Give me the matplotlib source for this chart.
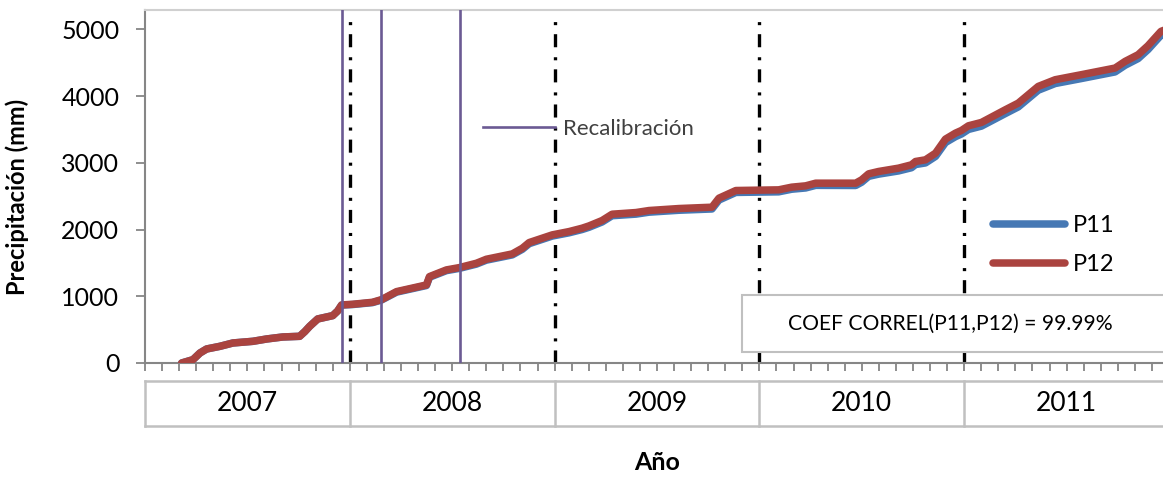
import matplotlib
matplotlib.use("Agg")
import matplotlib.pyplot as plt
from matplotlib.patches import Rectangle
from matplotlib.lines import Line2D
import matplotlib.transforms as mtransforms

plt.rcParams['font.family'] = ['Lato', 'DejaVu Sans']
plt.rcParams['lines.scale_dashes'] = False

# ---- data (months since Jan 2007) ----
months = [2.15, 2.81, 3.22, 3.61, 4.39, 5.15, 6.32, 7.13, 8.07, 9.06, 9.36, 9.65,
          10.12, 11.0, 11.29, 11.52, 12.16, 13.33, 13.86, 14.74, 16.49, 16.67,
          17.66, 18.42, 19.42, 20.0, 21.52, 22.11, 22.51, 23.86, 24.85, 25.61,
          26.02, 26.78, 27.37, 28.77, 29.53, 31.29, 33.22, 33.63, 34.62, 37.13,
          37.89, 38.71, 39.3, 41.64, 41.99, 42.4, 42.98, 44.15, 44.91, 45.15,
          45.73, 46.32, 46.9, 47.49, 47.84, 48.25, 49.01, 50.41, 51.17, 52.34,
          53.33, 54.85, 56.84, 57.43, 58.19, 58.77, 59.53, 59.95]
p12 = [0, 50, 150, 210, 250, 300, 325, 360, 390, 400, 470, 550,
       660, 710, 780, 870, 880, 910, 950, 1070, 1170, 1295,
       1395, 1430, 1495, 1555, 1635, 1720, 1805, 1920, 1970, 2020,
       2055, 2135, 2230, 2255, 2285, 2315, 2335, 2470, 2585, 2595,
       2635, 2655, 2695, 2695, 2745, 2835, 2870, 2920, 2970, 3020,
       3045, 3145, 3355, 3445, 3485, 3555, 3605, 3795, 3895, 4145,
       4245, 4320, 4420, 4520, 4620, 4755, 4970, 5010]
p11 = [0, 50, 150, 210, 250, 300, 325, 360, 390, 400, 470, 550,
       660, 710, 780, 868, 876, 905, 944, 1062, 1161, 1285,
       1384, 1418, 1482, 1541, 1620, 1704, 1788, 1902, 1951, 2000,
       2034, 2113, 2207, 2231, 2260, 2289, 2308, 2442, 2556, 2565,
       2604, 2623, 2662, 2660, 2709, 2797, 2830, 2878, 2926, 2974,
       2998, 3096, 3303, 3392, 3432, 3500, 3550, 3738, 3838, 4088,
       4188, 4262, 4362, 4462, 4562, 4697, 4912, 4952]
recalibracion = [11.52, 13.8, 18.45]
year_bounds = [12, 24, 36, 48]
years = ['2007', '2008', '2009', '2010', '2011']
yticks = [0, 1000, 2000, 3000, 4000, 5000]
correl_text = 'COEF CORREL(P11,P12) = 99.99%'

W, H = 1163, 478
fig = plt.figure(figsize=(W / 100, H / 100), dpi=100)
x0, x1 = 145, 1169
ytop, ybot = 10, 363
ax = fig.add_axes([x0 / W, (H - ybot) / H, (x1 - x0) / W, (ybot - ytop) / H])
ax.set_xlim(0, 60)
ax.set_ylim(0, 5290)

gray = '#868686'
light = '#C0C0C0'

# series
l11, = ax.plot(months, p11, color='#4678B4', lw=5.4, solid_capstyle='round', zorder=3, label='P11')
l12, = ax.plot(months, p12, color='#AA433F', lw=5.4, solid_capstyle='round', zorder=4, label='P12')

# year boundaries
for b in year_bounds:
    ax.axvline(b, color='black', lw=2.4, dashes=(9.4, 6.5, 2.2, 7.2), zorder=2,
               ymin=0, ymax=0.975)
# recalibration lines
for r in recalibracion:
    ax.axvline(r, color='#6B5A93', lw=1.9, zorder=5)

# axes styling
ax.set_yticks(yticks)
ax.set_yticklabels([str(v) for v in yticks], fontsize=18)
ax.tick_params(axis='y', direction='out', length=6.5, width=1.3, color=gray, pad=12)
ax.set_xticks(range(0, 61))
ax.set_xticklabels([])
ax.tick_params(axis='x', direction='out', length=6, width=1.3, color=gray)
ax.spines['left'].set_color(gray)
ax.spines['left'].set_linewidth(1.5)
ax.spines['bottom'].set_color(gray)
ax.spines['bottom'].set_linewidth(1.5)
ax.spines['top'].set_color('#D0D0D0')
ax.spines['top'].set_linewidth(1.5)
ax.spines['right'].set_color('#D0D0D0')

ax.set_ylabel('Precipitación (mm)', fontsize=17, fontweight='bold')
ax.yaxis.set_label_coords(-0.113, 0.47)

# category (year) table below the axis
trans = mtransforms.blended_transform_factory(ax.transData, ax.transAxes)
yb0 = (ybot - 426) / (ybot - ytop)
yb1 = (ybot - 381) / (ybot - ytop)
ax.plot([0, 60], [yb1, yb1], transform=trans, color=light, lw=1.8, clip_on=False)
ax.plot([0, 60], [yb0, yb0], transform=trans, color=light, lw=1.8, clip_on=False)
for b in [0] + year_bounds + [60]:
    ax.plot([b, b], [yb0, yb1], transform=trans, color=light, lw=1.8, clip_on=False)
for i, y in enumerate(years):
    ax.text(12 * i + 6, (yb0 + yb1) / 2, y, transform=trans, ha='center', va='center',
            fontsize=19)

ax.set_xlabel('Año', fontsize=18, fontweight='bold')
ax.xaxis.set_label_coords(0.5, (ybot - 462) / (ybot - ytop))
ax.xaxis.label.set_va('center')

# legends
leg1 = ax.legend(handles=[l11, l12], loc='upper left', frameon=False, fontsize=17,
                 handlelength=3.05, handletextpad=0.3, labelspacing=0.75,
                 bbox_to_anchor=(984 / W, (H - 206) / H), bbox_transform=fig.transFigure,
                 borderaxespad=0)
ax.add_artist(leg1)
rh = Line2D([], [], color='#6B5A93', lw=1.9)
ax.legend(handles=[rh], labels=['Recalibración'], loc='upper left', frameon=False,
          fontsize=16, handlelength=3.25, handletextpad=0.36,
          bbox_to_anchor=(474 / W, (H - 110) / H), bbox_transform=fig.transFigure,
          borderaxespad=0, labelcolor='#404040')

# correlation box
box = Rectangle((742 / W, (H - 352) / H), (1175 - 742) / W, (352 - 295) / H,
                transform=fig.transFigure, facecolor='white', edgecolor=light, lw=1.5,
                zorder=10)
fig.patches.append(box)
fig.text(950 / W, (H - 324) / H, correl_text, ha='center', va='center', fontsize=15.2,
         zorder=11)

fig.savefig('out.png', dpi=100)
